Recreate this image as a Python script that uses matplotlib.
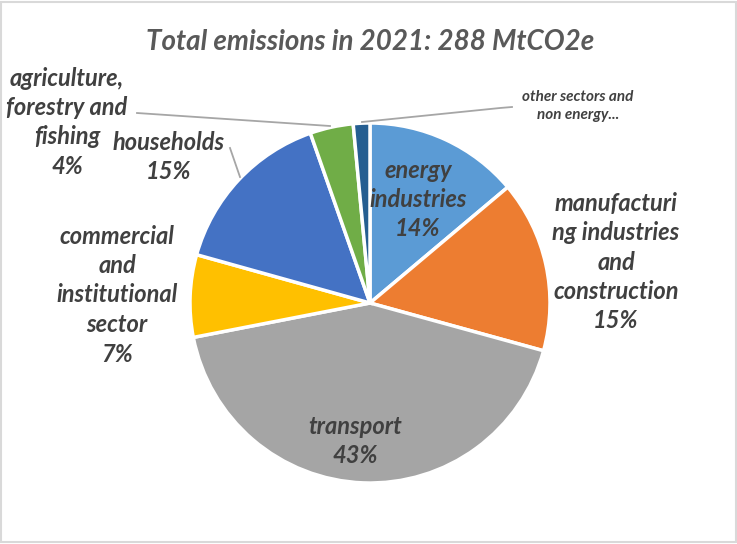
import matplotlib.pyplot as plt
from matplotlib.patches import Rectangle

sectors = ["energy\nindustries", "manufacturi\nng industries\nand\nconstruction", "transport",
           "commercial\nand\ninstitutional\nsector", "households",
           "agriculture,\nforestry and\nfishing", "other sectors and\nnon energy..."]
emissions = [40.0, 44.4, 123.0, 21.3, 44.1, 11.2, 4.3]  # MtCO2e
colors = ["#5b9bd5", "#ed7d31", "#a5a5a5", "#ffc000", "#4472c4", "#70ad47", "#255e91"]

plt.rcParams['font.family'] = ['Lato', 'DejaVu Sans']

W, H = 737, 544
fig = plt.figure(figsize=(W / 100, H / 100), dpi=100)
ax = fig.add_axes([0, 0, 1, 1])

fig.patches.append(Rectangle((0.002, 0.003), 0.996, 0.994, transform=fig.transFigure,
                             fill=False, edgecolor='#d9d9d9', linewidth=1.5))

# pie centred at (370, 303) px, radius 180 px (y axis inverted, so flip the direction)
wedges, _ = ax.pie(emissions, colors=colors, center=(370, 303), radius=180,
                   startangle=-90, counterclock=True,
                   wedgeprops=dict(edgecolor='white', linewidth=2.5))
ax.set_xlim(0, W)
ax.set_ylim(H, 0)
ax.set_aspect('equal')
ax.axis('off')

total = sum(emissions)
pct = [f"{round(v / total * 100)}%" for v in emissions]

# labels drawn line by line (x centre, y of first line), ~29.5 px per line
txt = dict(fontsize=17, fontweight='bold', fontstyle='italic', color='#404040',
           ha='center', va='center')
label_pos = [(418, 170), (616, 203), (355, 426), (117, 236), (169, 142), (67, 78)]
for name, p, (x, y) in zip(sectors[:6], pct[:6], label_pos):
    for i, line in enumerate(f"{name}\n{p}".split("\n")):
        ax.text(x, y + i * 29.5, line, **txt)

ax.text(578, 106, sectors[6], fontsize=11, fontweight='bold', fontstyle='italic',
        color='#404040', ha='center', va='center', linespacing=1.4)

# leader lines
lc = dict(color='#a6a6a6', linewidth=1.3)
ax.plot([137, 330], [113, 126], **lc)
ax.plot([362, 500, 512], [122, 108, 107], **lc)
ax.plot([230, 240], [148, 177], **lc)

ax.text(370, 42, "Total emissions in 2021: 288 MtCO2e", fontsize=20, fontweight='bold',
        fontstyle='italic', color='#595959', ha='center', va='center')

fig.savefig("out.png", dpi=100)
